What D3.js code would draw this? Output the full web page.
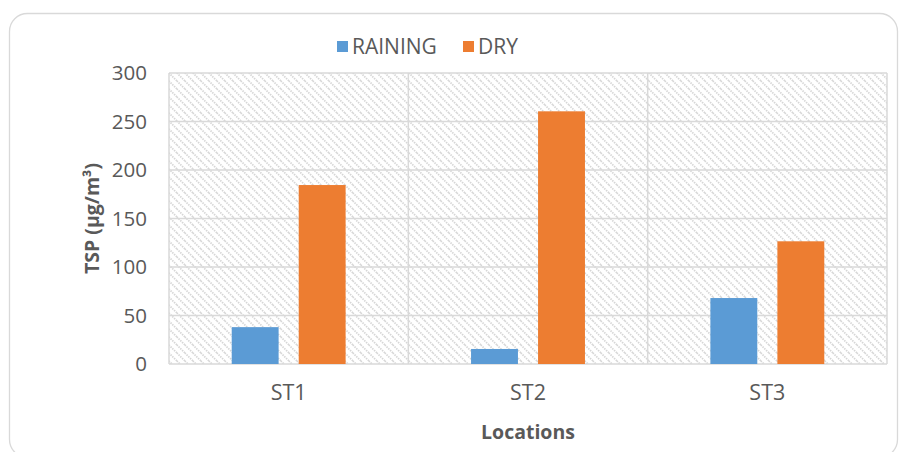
<!DOCTYPE html>
<html>
<head>
<meta charset="utf-8">
<script src="https://cdn.jsdelivr.net/npm/d3@7"></script>
<style>
  html, body { margin: 0; padding: 0; background: #fff; }
  svg { display: block; font-family: "Open Sans", "Liberation Sans", sans-serif; }
</style>
</head>
<body>
<svg id="chart" width="899" height="452"></svg>
<script>
// TSP concentration by sampling location, raining vs dry season
const locations = ["ST1", "ST2", "ST3"];
const seriesNames = ["RAINING", "DRY"];
const rainingValues = [38, 15.5, 68];
const dryValues = [184.5, 260.5, 126.5];
const seriesColors = ["#5b9bd5", "#ed7d31"];
const yTicks = [0, 50, 100, 150, 200, 250, 300];

const svg = d3.select("#chart");
const W = 899, H = 452;
const margin = { left: 169, right: 12, top: 73, bottom: 88 };
const plotW = W - margin.left - margin.right;
const plotH = H - margin.top - margin.bottom;

// outer rounded frame
svg.append("rect")
  .attr("x", 9.5).attr("y", 13.5)
  .attr("width", 888).attr("height", 444)
  .attr("rx", 18).attr("ry", 18)
  .attr("fill", "#fff").attr("stroke", "#d9d9d9").attr("stroke-width", 1.3);

// diagonal hatch for the plot background
const defs = svg.append("defs");
const pat = defs.append("pattern")
  .attr("id", "hatch").attr("patternUnits", "userSpaceOnUse")
  .attr("width", 8).attr("height", 8);
pat.append("rect").attr("width", 8).attr("height", 8).attr("fill", "#fff");
pat.append("path")
  .attr("d", "M-2,-2 L10,10 M-2,6 L2,10 M6,-2 L10,2")
  .attr("stroke", "#d6d6d6").attr("stroke-width", 1.7)
  .attr("stroke-dasharray", "1.5,1");

const g = svg.append("g").attr("transform", `translate(${margin.left},${margin.top})`);

const x0 = d3.scaleBand().domain(locations).range([0, plotW]).paddingInner(0).paddingOuter(0);
const x1 = d3.scaleBand().domain(seriesNames).range([0, x0.bandwidth()]).paddingInner(0.3).paddingOuter(0.936);
const y = d3.scaleLinear().domain([0, 300]).range([plotH, 0]);

g.append("rect").attr("width", plotW).attr("height", plotH).attr("fill", "url(#hatch)");

// horizontal gridlines
g.append("g").selectAll("line").data(yTicks).join("line")
  .attr("x1", 0).attr("x2", plotW)
  .attr("y1", d => y(d)).attr("y2", d => y(d))
  .attr("stroke", "#d9d9d9").attr("stroke-width", 1.5);

// vertical category dividers and plot edges
const dividers = [0, ...locations.map(d => x0(d) + x0.bandwidth())];
g.append("g").selectAll("line").data(dividers).join("line")
  .attr("x1", d => d).attr("x2", d => d)
  .attr("y1", 0).attr("y2", plotH)
  .attr("stroke", "#d9d9d9").attr("stroke-width", 1.5);

// bars
const rows = locations.map((loc, i) => ({ loc, vals: [rainingValues[i], dryValues[i]] }));
const groups = g.append("g").selectAll("g").data(rows).join("g")
  .attr("transform", d => `translate(${x0(d.loc)},0)`);
groups.selectAll("rect").data(d => d.vals.map((v, j) => ({ v, s: seriesNames[j], c: seriesColors[j] })))
  .join("rect")
  .attr("x", d => x1(d.s))
  .attr("width", x1.bandwidth())
  .attr("y", d => y(d.v))
  .attr("height", d => plotH - y(d.v))
  .attr("fill", d => d.c);

// y axis
const yAxis = g.append("g").call(d3.axisLeft(y).tickValues(yTicks).tickSize(0).tickPadding(22));
yAxis.select(".domain").remove();
yAxis.selectAll("text").attr("fill", "#595959").attr("font-size", 20.5)
  .attr("font-family", "'Open Sans', sans-serif");

// x axis
const xAxis = g.append("g").attr("transform", `translate(0,${plotH})`)
  .call(d3.axisBottom(x0).tickSize(0).tickPadding(21));
xAxis.select(".domain").remove();
xAxis.selectAll("text").attr("fill", "#595959").attr("font-size", 21.5)
  .attr("font-family", "'Open Sans', sans-serif");

// axis titles
svg.append("text")
  .attr("transform", `translate(99,${margin.top + plotH / 2}) rotate(-90)`)
  .attr("text-anchor", "middle")
  .attr("fill", "#595959").attr("font-size", 19.5).attr("font-weight", "bold")
  .text("TSP (µg/m³)");

svg.append("text")
  .attr("x", margin.left + plotW / 2).attr("y", 439)
  .attr("text-anchor", "middle")
  .attr("fill", "#595959").attr("font-size", 19.5).attr("font-weight", "bold")
  .text("Locations");

// legend
const legend = svg.append("g").attr("transform", "translate(337,41)");
const legendX = [0, 126];
seriesNames.forEach((name, i) => {
  const lg = legend.append("g").attr("transform", `translate(${legendX[i]},0)`);
  lg.append("rect").attr("width", 11).attr("height", 11).attr("fill", seriesColors[i]);
  lg.append("text").attr("x", 15).attr("y", 13)
    .attr("fill", "#595959").attr("font-size", 21)
    .text(name);
});
</script>
</body>
</html>
